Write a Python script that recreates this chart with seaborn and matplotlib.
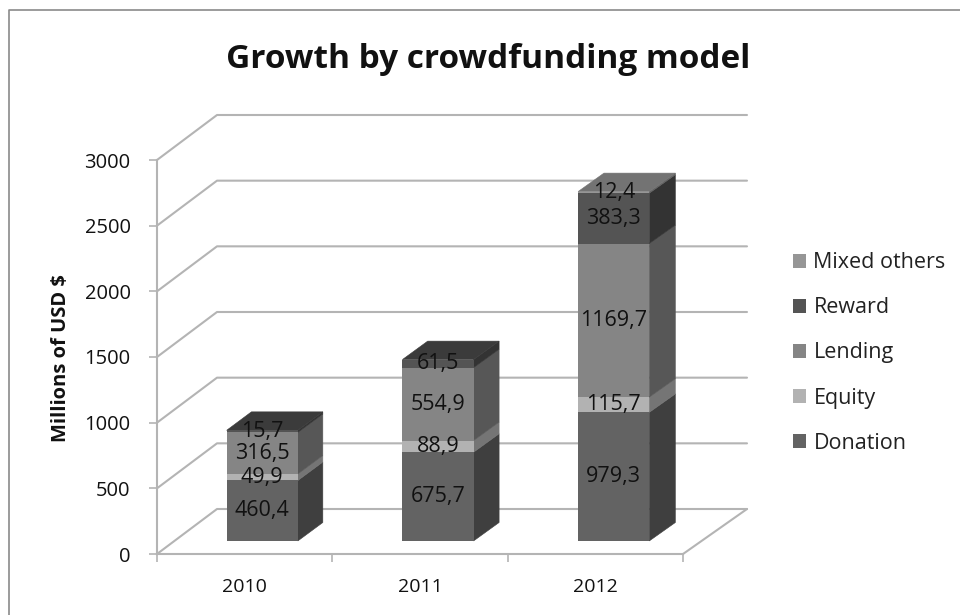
import matplotlib
matplotlib.use("Agg")
import matplotlib.pyplot as plt
import seaborn as sns
import numpy as np
import pandas as pd
from matplotlib.lines import Line2D
from matplotlib.patches import Polygon

years = ['2010', '2011', '2012']
series = ['Donation', 'Equity', 'Lending', 'Reward', 'Mixed others']
donation = [460.4, 675.7, 979.3]
equity = [49.9, 88.9, 115.7]
lending = [316.5, 554.9, 1169.7]
reward = [15.7, 61.5, 383.3]
mixed = [0, 0, 12.4]
y_ticks = [0, 500, 1000, 1500, 2000, 2500, 3000]

front_colors = ['#636363', '#b2b2b2', '#858585', '#545454', '#969696']
side_colors = ['#3f3f3f', '#757575', '#575757', '#333333', '#636363']
top_colors = ['#4a4a4a', '#8a8a8a', '#6a6a6a', '#3b3b3b', '#737373']
grid_color = '#b4b4b4'

sns.set_theme(style="white")
plt.rcParams['font.family'] = ['Open Sans', 'DejaVu Sans']

fig = plt.figure(figsize=(9.6, 6.15), dpi=100)
# front plane of the fake 3D box, in figure pixels
ax = fig.add_axes([157 / 960, 1 - 554 / 615, 526 / 960, 394 / 615])
ax.set_xlim(-0.5, 2.5)
ax.set_ylim(0, 3000)

# depth vector of the box in data units (a touch of perspective in x)
depth_x_left = 60 / (526 / 3)
depth_x_right = 64 / (526 / 3)
depth_y = 45 / (394 / 3000)
bar_front = 0.29
bar_back = 0.70
bar_width = 0.405


def project(x, y, d):
    depth_x = depth_x_left + (x + 0.5) / 3 * (depth_x_right - depth_x_left)
    return x + d * depth_x, y + d * depth_y


def face(points, color):
    ax.add_patch(Polygon(points, closed=True, fc=color, ec=color, lw=0.4,
                         clip_on=False, zorder=3))


# walls and floor
for v in y_ticks:
    ax.plot(*zip(project(-0.5, v, 0), project(-0.5, v, 1), project(2.5, v, 1)),
            color=grid_color, lw=1.5, clip_on=False, zorder=1)
ax.plot(*zip(project(2.5, 0, 0), project(2.5, 0, 1)),
        color=grid_color, lw=1.5, clip_on=False, zorder=1)

# stacked bars: seaborn draws the fronts, the sides and tops follow from them
df = pd.DataFrame({'Year': years, 'Donation': donation, 'Equity': equity,
                   'Lending': lending, 'Reward': reward, 'Mixed others': mixed})
totals = df[series].sum(axis=1).to_numpy()
bottom = np.zeros(len(years))
for k, name in enumerate(series):
    values = df[name].to_numpy()
    before = len(ax.patches)
    sns.barplot(data=df, x='Year', y=name, ax=ax, color=front_colors[k], saturation=1,
                width=bar_width, bottom=bottom, label=name, linewidth=0, zorder=4)
    for i, p in enumerate(list(ax.patches[before:before + len(years)])):
        x0 = p.get_x()
        x1 = x0 + p.get_width()
        y0, y1 = bottom[i], bottom[i] + values[i]
        p.set_xy(project(x0, y0, bar_front))
        p.set_width(project(x1, y0, bar_front)[0] - project(x0, y0, bar_front)[0])
        p.set_clip_on(False)
        if values[i] == 0:
            continue
        face([project(x1, y0, bar_front), project(x1, y0, bar_back),
              project(x1, y1, bar_back), project(x1, y1, bar_front)], side_colors[k])
        if y1 == totals[i]:
            face([project(x0, y1, bar_front), project(x0, y1, bar_back),
                  project(x1, y1, bar_back), project(x1, y1, bar_front)], top_colors[k])
        cx, cy = project((x0 + x1) / 2, (y0 + y1) / 2, bar_front)
        ax.text(cx, cy, f"{values[i]:.1f}".replace('.', ','), ha='center', va='center',
                fontsize=15.5, color='#111111', zorder=5)
    bottom = bottom + values

# axes
ax.grid(False)
for name in ['top', 'right']:
    ax.spines[name].set_visible(False)
for name in ['left', 'bottom']:
    ax.spines[name].set_color(grid_color)
    ax.spines[name].set_linewidth(1.5)
ax.set_yticks(y_ticks)
ax.set_xticks([0, 1, 2])
ax.set_xticklabels(years)
ax.set_xticks([-0.5, 0.5, 1.5, 2.5], minor=True)
ax.tick_params(axis='x', which='major', length=0, pad=17, labelsize=14, labelcolor='#111111')
ax.tick_params(axis='x', which='minor', length=6, width=1.2, color=grid_color, bottom=True)
ax.tick_params(axis='y', length=6, width=1.2, color=grid_color, left=True, pad=13,
               labelsize=14.5, labelcolor='#111111')
ax.set_xlabel('')
ax.set_ylabel('')
ax.set_facecolor('none')

handles, labels = ax.get_legend_handles_labels()
ax.legend(handles[::-1], labels[::-1], loc='center left',
          bbox_to_anchor=(774 / 960, 1 - 353 / 615), bbox_transform=fig.transFigure,
          frameon=False, fontsize=15.5, handlelength=0.6, handleheight=0.6, handletextpad=0.33,
          labelspacing=1.12, labelcolor='#222222')

fig.text(488 / 960, 1 - 59 / 615, 'Growth by crowdfunding model', ha='center', va='center',
         fontsize=24, fontweight='bold', color='#111111')
fig.text(61 / 960, 1 - 358 / 615, 'Millions of USD $', rotation=90, ha='center', va='center',
         fontsize=14.5, fontweight='bold', color='#111111')

# chart frame: only the top and left edges are inside the crop
fig.add_artist(Line2D([9 / 960, 9 / 960, 1], [0, 1 - 10 / 615, 1 - 10 / 615],
                      color='#8a8a8a', lw=1.2, transform=fig.transFigure))

fig.savefig('out.png', dpi=100)
